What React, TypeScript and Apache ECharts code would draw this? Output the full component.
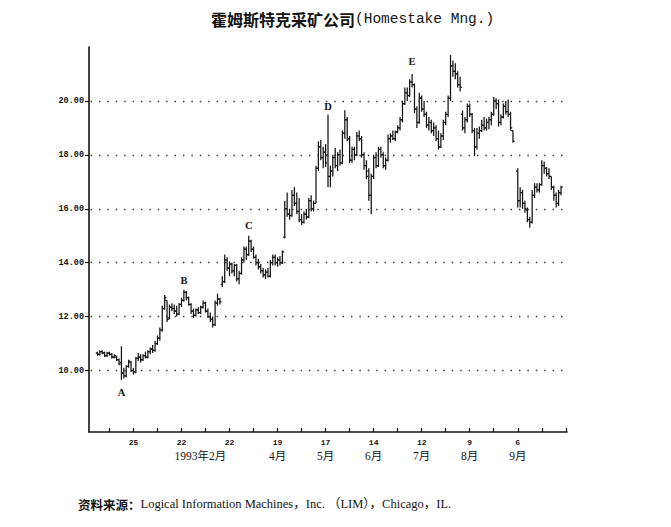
import React, { useEffect, useRef } from "react";
import * as echarts from "echarts";

// Trading-day categories (weekdays) starting Wed 30 Dec 1992
const FIRST_DAY_UTC = Date.UTC(1992, 11, 30);
const CATEGORY_COUNT = 199;
// index (in categories) of the first bar
const FIRST_BAR_INDEX = 3;

// Daily OHLC values (null = no bar)
const opens: (number | null)[] = [
  10.65, 10.6, 10.7, 10.65, 10.55, 10.65, 10.6,
  10.5, 10.5, 10.4, 10.3, 9.9, 9.8, 10.15, 10.3, 10.0, 9.95,
  10.45, 10.5, 10.4, 10.55, 10.5, 10.7, 10.8, 10.75, 11.0, 11.2,
  11.5, 12.3, 12.6, 11.95, 12.35, 12.3, 12.2, 12.1, 12.45, 12.6,
  12.9, 12.7, 12.45, 12.2, 12.05, 12.25, 12.15, 12.35, 12.5, 12.2,
  12.0, 11.9, 11.7, 12.5, 12.65, 13.2, 13.3, 14.1, 13.8, 13.95,
  13.7, 13.9, 13.4, 13.6, 14.1, 14.5, 14.3, 14.8, 14.5, 14.2,
  14.0, 13.85, 13.7, 13.55, 13.65, 13.5, 14.0, 14.2, 14.0, 14.1,
  14.0, 14.95, 16.0, 15.8, 15.75, 16.5, 16.2, 15.9, 15.6, 15.5,
  15.8, 15.7, 16.3, 16.0, 16.2, 17.5, 18.3, 17.9, 18.1, 18.0,
  17.2, 17.4, 17.9, 17.6, 18.0, 17.7, 18.8, 19.3, 18.6, 17.8,
  18.2, 18.0, 18.7, 18.6, 18.0, 17.6, 17.4, 16.5, 17.2, 17.9,
  17.6, 18.2, 18.0, 17.6, 17.8, 18.6, 18.7, 18.6, 18.85, 19.0,
  19.3, 19.9, 20.3, 20.2, 20.7, 20.6, 19.7, 19.2, 20.1, 19.7,
  19.5, 19.1, 19.2, 18.9, 19.0, 18.6, 18.3, 18.7, 19.2, 19.5,
  20.1, 21.3, 21.1, 21.0, 20.6, 19.5, 19.0, 19.3, 19.8, 19.5,
  18.9, 18.3, 18.8, 18.9, 19.1, 19.0, 19.2, 19.3, 19.5, 20.0,
  19.9, 19.2, 19.4, 19.8, 19.6, 19.5, 18.9, null, 17.4, 16.3,
  16.6, 16.2, 15.95, 15.6, 15.5, 16.5, 16.8, 16.7, 16.9, 17.6,
  17.5, 17.3, 17.2, 16.8, 16.5, 16.2, 16.6,
];

const highs: (number | null)[] = [
  10.7, 10.75, 10.75, 10.7, 10.7, 10.7, 10.65,
  10.6, 10.55, 10.45, 10.9, 10.1, 10.2, 10.4, 10.35, 10.1, 10.5,
  10.65, 10.6, 10.6, 10.7, 10.75, 10.85, 10.95, 11.1, 11.3, 11.6,
  12.4, 12.8, 12.6, 12.45, 12.5, 12.45, 12.4, 12.5, 12.7, 13.0,
  12.95, 12.75, 12.5, 12.3, 12.3, 12.35, 12.4, 12.6, 12.55, 12.3,
  12.15, 12.0, 12.6, 12.85, 12.7, 13.5, 14.3, 14.2, 14.05, 14.0,
  13.95, 13.95, 13.7, 14.2, 14.6, 14.6, 15.0, 14.85, 14.6, 14.3,
  14.15, 13.95, 13.8, 13.75, 13.8, 14.1, 14.3, 14.3, 14.2, 14.25,
  14.45, 16.3, 16.6, 16.0, 16.7, 16.8, 16.6, 16.4, 15.8, 15.9,
  16.0, 16.4, 16.5, 16.3, 17.6, 18.5, 18.55, 18.3, 18.4, 19.5,
  17.6, 18.0, 18.25, 18.1, 18.2, 18.9, 19.65, 19.4, 18.7, 18.3,
  18.3, 18.85, 18.9, 18.7, 18.1, 17.8, 17.5, 17.3, 18.0, 18.1,
  18.3, 18.3, 18.1, 17.9, 18.75, 18.8, 18.9, 18.9, 19.1, 19.4,
  20.0, 20.5, 20.5, 20.8, 21.0, 20.65, 19.8, 20.3, 20.2, 20.0,
  19.6, 19.4, 19.3, 19.2, 19.1, 18.9, 18.8, 19.3, 19.6, 20.2,
  21.7, 21.5, 21.4, 21.1, 20.9, 19.65, 19.4, 19.9, 19.9, 19.55,
  19.0, 19.0, 19.05, 19.3, 19.4, 19.35, 19.4, 19.6, 20.15, 20.1,
  20.05, 19.5, 19.9, 20.0, 20.05, 19.6, 18.9, null, 17.5, 16.8,
  16.7, 16.3, 16.05, 15.7, 16.7, 16.95, 16.95, 16.95, 17.8, 17.75,
  17.55, 17.5, 17.2, 16.85, 16.6, 16.7, 16.85,
];

const lows: (number | null)[] = [
  10.55, 10.55, 10.6, 10.5, 10.5, 10.55, 10.45,
  10.45, 10.35, 10.2, 9.65, 9.7, 9.75, 10.1, 9.95, 9.85, 9.9,
  10.35, 10.3, 10.35, 10.45, 10.45, 10.6, 10.65, 10.7, 10.95, 11.1,
  11.45, 12.25, 11.8, 11.9, 12.2, 12.1, 12.0, 12.05, 12.35, 12.55,
  12.6, 12.4, 12.1, 11.95, 12.0, 12.1, 12.1, 12.3, 12.15, 11.95,
  11.8, 11.6, 11.65, 12.4, 12.45, 13.1, 13.25, 13.7, 13.5, 13.6,
  13.5, 13.3, 13.2, 13.55, 14.0, 14.1, 14.25, 14.4, 14.15, 13.9,
  13.75, 13.6, 13.45, 13.4, 13.45, 13.45, 13.9, 13.9, 13.85, 13.9,
  13.95, 14.9, 15.7, 15.6, 15.7, 16.1, 15.8, 15.5, 15.4, 15.45,
  15.6, 15.65, 15.9, 15.9, 16.2, 17.4, 17.8, 17.5, 17.55, 16.8,
  16.8, 17.2, 17.5, 17.4, 17.6, 17.65, 18.6, 18.5, 17.7, 17.7,
  17.8, 17.95, 18.5, 17.9, 17.45, 17.1, 16.3, 15.8, 17.1, 17.5,
  17.55, 17.9, 17.5, 17.45, 17.75, 18.45, 18.55, 18.5, 18.8, 18.9,
  19.2, 19.85, 20.0, 20.15, 20.5, 19.55, 19.0, 19.15, 19.6, 19.4,
  19.0, 18.9, 18.8, 18.7, 18.5, 18.2, 18.25, 18.55, 19.1, 19.4,
  20.0, 20.9, 20.8, 20.5, 20.35, 18.9, 18.8, 19.2, 19.4, 18.8,
  17.95, 18.2, 18.6, 18.85, 18.9, 18.9, 18.95, 19.1, 19.45, 19.7,
  19.05, 19.1, 19.35, 19.5, 19.4, 18.9, 18.45, null, 16.05, 16.05,
  16.0, 15.85, 15.5, 15.3, 15.45, 16.4, 16.6, 16.6, 16.85, 17.3,
  17.2, 17.1, 16.7, 16.3, 16.05, 16.1, 16.5,
];

const closes: (number | null)[] = [
  10.6, 10.7, 10.65, 10.55, 10.65, 10.6, 10.5,
  10.55, 10.4, 10.25, 9.9, 9.8, 10.15, 10.35, 10.0, 9.95, 10.45,
  10.5, 10.4, 10.55, 10.5, 10.7, 10.8, 10.75, 11.0, 11.2, 11.5,
  12.3, 12.7, 11.9, 12.35, 12.3, 12.2, 12.1, 12.45, 12.6, 12.9,
  12.7, 12.45, 12.2, 12.05, 12.25, 12.15, 12.35, 12.5, 12.2, 12.0,
  11.9, 11.7, 12.5, 12.65, 12.55, 13.3, 14.1, 13.8, 13.95, 13.7,
  13.9, 13.4, 13.6, 14.1, 14.5, 14.3, 14.8, 14.5, 14.2, 14.0,
  13.85, 13.7, 13.55, 13.65, 13.5, 14.0, 14.2, 14.0, 14.1, 14.0,
  14.4, 16.0, 15.8, 15.75, 16.5, 16.2, 15.9, 15.6, 15.5, 15.8,
  15.7, 16.3, 16.0, 16.2, 17.5, 18.3, 17.9, 18.1, 17.7, 17.2,
  17.4, 17.9, 17.6, 18.0, 17.7, 18.8, 19.3, 18.6, 17.8, 18.2,
  18.0, 18.7, 18.6, 18.0, 17.6, 17.2, 16.5, 17.2, 17.9, 17.6,
  18.2, 18.0, 17.6, 17.8, 18.6, 18.7, 18.6, 18.85, 19.0, 19.3,
  19.9, 20.3, 20.2, 20.7, 20.6, 19.7, 19.2, 20.1, 19.7, 19.5,
  19.1, 19.2, 18.9, 19.0, 18.6, 18.3, 18.7, 19.2, 19.5, 20.1,
  21.3, 21.1, 21.0, 20.6, 20.5, 19.0, 19.3, 19.8, 19.5, 18.9,
  18.3, 18.8, 18.9, 19.1, 19.0, 19.2, 19.3, 19.5, 20.0, 19.9,
  19.2, 19.4, 19.8, 19.6, 19.5, 19.0, 18.5, null, 16.3, 16.6,
  16.2, 16.0, 15.6, 15.5, 16.5, 16.8, 16.7, 16.9, 17.6, 17.5,
  17.3, 17.2, 16.8, 16.5, 16.2, 16.6, 16.8,
];

// Axis ticks / labels
const yMin = 7.72;
const yMax = 22;
const yTickValues = [10, 12, 14, 16, 18, 20];
const xTickFirst = 8; // Jan 11
const xTickEvery = 10; // every two weeks
const xLabelFirst = 18; // Jan 25
const xLabelEvery = 20; // every four weeks
const dayTickLabels = ["25", "22", "22", "19", "17", "14", "12", "9", "6"];
const monthTickLabels = ["", "1993年2月", "", "4月", "5月", "6月", "7月", "8月", "9月"];

// Wave annotations (category index, price level)
const waveNames = ["A", "B", "C", "D", "E"];
const waveIndex = [13, 39, 66, 99, 134];
const wavePrice = [9.17, 13.33, 15.37, 19.81, 21.48];

function buildCategories(): string[] {
  const out: string[] = [];
  const d = new Date(FIRST_DAY_UTC);
  while (out.length < CATEGORY_COUNT) {
    const wd = d.getUTCDay();
    if (wd !== 0 && wd !== 6) out.push(d.toISOString().slice(0, 10));
    d.setUTCDate(d.getUTCDate() + 1);
  }
  return out;
}

export default function App() {
  const ref = useRef<HTMLDivElement>(null);

  useEffect(() => {
    if (!ref.current) return;
    const chart = echarts.init(ref.current, null, { renderer: "svg" });
    const categories = buildCategories();

    const data: number[][] = [];
    for (let k = 0; k < opens.length; k++) {
      const o = opens[k], h = highs[k], l = lows[k], c = closes[k];
      if (o == null || h == null || l == null || c == null) continue;
      data.push([FIRST_BAR_INDEX + k, o, h, l, c]);
    }

    const isTick = (i: number) => i >= xTickFirst && (i - xTickFirst) % xTickEvery === 0;
    const labelSlot = (i: number) => {
      if (i < xLabelFirst || (i - xLabelFirst) % xLabelEvery !== 0) return -1;
      const s = (i - xLabelFirst) / xLabelEvery;
      return s < dayTickLabels.length ? s : -1;
    };
    const monthSlot = (i: number) => {
      const s = labelSlot(i);
      return s >= 0 && monthTickLabels[s] ? s : -1;
    };

    const ink = "#141414";
    const monthFont = "Liberation Serif, Noto Sans CJK SC";

    chart.setOption({
      animation: false,
      backgroundColor: "#ffffff",
      title: [
        {
          text: "{cn|霍姆斯特克采矿公司}{en|(Homestake Mng.)}",
          left: 211,
          top: 11,
          padding: 0,
          textStyle: {
            fontWeight: "normal",
            rich: {
              cn: { fontFamily: "Noto Sans CJK SC", fontSize: 16, fontWeight: "bold", color: ink },
              en: { fontFamily: "Liberation Mono", fontSize: 14.5, fontWeight: "normal", color: ink },
            },
          },
        },
        {
          text: "{b|资料来源：}{r|Logical Information Machines，Inc. （LIM），Chicago，IL.}",
          left: 78,
          top: 498,
          padding: 0,
          textStyle: {
            fontWeight: "normal",
            rich: {
              b: { fontFamily: "Noto Sans CJK SC", fontSize: 12.5, fontWeight: "bold", color: ink },
              r: { fontFamily: "Liberation Serif, Noto Sans CJK SC", fontSize: 12.5, fontWeight: "normal", color: ink },
            },
          },
        },
      ],
      grid: { left: 89, right: 104, top: 47, bottom: 95, containLabel: false },
      xAxis: [
        {
          type: "category",
          data: categories,
          boundaryGap: true,
          axisLine: { show: true, lineStyle: { color: ink, width: 1.6 } },
          axisTick: {
            show: true,
            inside: true,
            length: 4,
            alignWithLabel: true,
            interval: (i: number) => isTick(i),
            lineStyle: { color: ink, width: 1.2 },
          },
          axisLabel: {
            show: true,
            showMinLabel: true,
            showMaxLabel: true,
            hideOverlap: false,
            interval: (i: number) => labelSlot(i) >= 0,
            margin: 6,
            formatter: (_v: string, i: number) => {
              const s = labelSlot(i);
              return s < 0 ? "" : dayTickLabels[s];
            },
            fontFamily: "Liberation Mono",
            fontWeight: "bold",
            fontSize: 8,
            color: ink,
          },
          splitLine: { show: false },
        },
        {
          type: "category",
          data: categories,
          boundaryGap: true,
          position: "bottom",
          axisLine: { show: false },
          axisTick: { show: false },
          axisLabel: {
            show: true,
            showMinLabel: true,
            showMaxLabel: true,
            hideOverlap: false,
            interval: (i: number) => monthSlot(i) >= 0,
            margin: 18,
            formatter: (_v: string, i: number) => {
              const s = monthSlot(i);
              if (s < 0) return "";
              return s === 1 ? `{w|${monthTickLabels[s]}}` : `{m|${monthTickLabels[s]}}`;
            },
            rich: {
              m: { fontFamily: monthFont, fontSize: 11.5, color: ink },
              w: { fontFamily: monthFont, fontSize: 11.5, color: ink, padding: [0, 0, 0, 38] },
            },
          },
          splitLine: { show: false },
        },
      ],
      yAxis: {
        type: "value",
        min: yMin,
        max: yMax,
        axisLine: { show: true, lineStyle: { color: ink, width: 1.6 } },
        axisTick: {
          show: true,
          length: 4,
          customValues: yTickValues,
          lineStyle: { color: ink, width: 1.2 },
        },
        axisLabel: {
          show: true,
          customValues: yTickValues,
          margin: 5,
          fontFamily: "Liberation Mono",
          fontWeight: "bold",
          fontSize: 8.5,
          color: ink,
          formatter: (v: number) => v.toFixed(2),
        },
        splitLine: { show: false },
      },
      series: [
        {
          type: "custom",
          xAxisIndex: 0,
          yAxisIndex: 0,
          clip: false,
          encode: { x: 0, y: [1, 2, 3, 4] },
          data,
          renderItem: (_params: any, api: any) => {
            const i = api.value(0);
            const o = api.coord([i, api.value(1)]);
            const h = api.coord([i, api.value(2)]);
            const l = api.coord([i, api.value(3)]);
            const c = api.coord([i, api.value(4)]);
            const t = 1.7;
            const style = { stroke: ink, lineWidth: 1.25, fill: null };
            return {
              type: "group",
              children: [
                { type: "line", shape: { x1: h[0], y1: h[1], x2: l[0], y2: l[1] }, style },
                { type: "line", shape: { x1: o[0] - t, y1: o[1], x2: o[0], y2: o[1] }, style },
                { type: "line", shape: { x1: c[0], y1: c[1], x2: c[0] + t, y2: c[1] }, style },
              ],
            };
          },
          markLine: {
            silent: true,
            symbol: ["none", "none"],
            label: { show: false },
            lineStyle: { type: [1.4, 7], color: "#333", width: 1.4, dashOffset: -10 },
            data: yTickValues.map((v) => ({ yAxis: v })),
          },
          markPoint: {
            silent: true,
            symbol: "circle",
            symbolSize: 1,
            itemStyle: { color: "rgba(0,0,0,0)" },
            label: {
              show: true,
              position: "inside",
              formatter: "{b}",
              fontFamily: "Liberation Serif",
              fontWeight: "bold",
              fontSize: 10.5,
              color: ink,
            },
            data: waveNames.map((n, k) => ({ name: n, coord: [categories[waveIndex[k]], wavePrice[k]] })),
          },
        },
      ],
    });

    return () => chart.dispose();
  }, []);

  return (
    <div
      ref={ref}
      style={{ position: "absolute", left: 0, top: 0, width: 671, height: 527, background: "#fff" }}
    />
  );
}
